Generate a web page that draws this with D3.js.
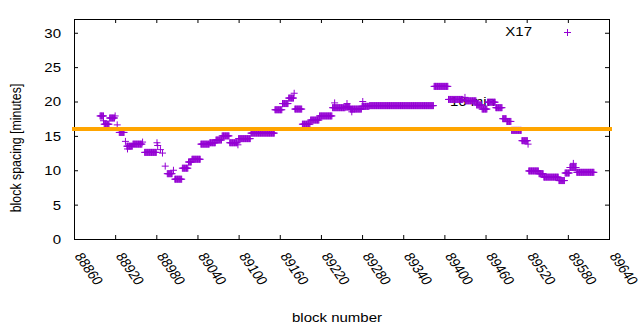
<!DOCTYPE html>
<html>
<head>
<meta charset="utf-8">
<script src="https://cdn.jsdelivr.net/npm/d3@7"></script>
<style>
  body { margin: 0; background: white; }
  text { font-family: "Liberation Sans", Arial, sans-serif; font-size: 15px; fill: black; }
</style>
</head>
<body>
<div id="chart"></div>
<script>
// block ranges with equal spacing (one "+" per block)
const runFrom  = [88898, 88903, 88904, 88912, 88920, 88923, 88926, 88935, 88937, 88938,
                  88946, 88960, 88963, 88981, 88982, 88986, 88989, 88993, 88996, 89005,
                  89007, 89018, 89027, 89032, 89045, 89058, 89067, 89076, 89087, 89099,
                  89100, 89118, 89153, 89164, 89173, 89181, 89182, 89193, 89205, 89218,
                  89237, 89240, 89256, 89258, 89263, 89265, 89280, 89281, 89291, 89385,
                  89406, 89430, 89431, 89447, 89455, 89463, 89475, 89485, 89491, 89498,
                  89513, 89522, 89523, 89538, 89545, 89567, 89576, 89583, 89588, 89593];
const runTo    = [88903, 88903, 88911, 88919, 88920, 88923, 88933, 88935, 88945, 88938,
                  88959, 88960, 88980, 88981, 88982, 88986, 88989, 88993, 89003, 89005,
                  89017, 89026, 89031, 89044, 89057, 89066, 89075, 89086, 89098, 89099,
                  89117, 89152, 89163, 89172, 89180, 89181, 89192, 89204, 89217, 89236,
                  89255, 89240, 89262, 89258, 89279, 89265, 89290, 89281, 89384, 89405,
                  89427, 89430, 89446, 89454, 89462, 89474, 89484, 89490, 89497, 89512,
                  89521, 89522, 89537, 89544, 89566, 89575, 89582, 89592, 89588, 89618];
const runValue = [17.9, 17.2, 16.7, 17.6, 17.9, 16.6, 15.5, 14.2, 13.5, 13.1,
                  13.8, 14.1, 12.6, 14.0, 13.6, 13.0, 12.5, 10.6, 9.5, 10.0,
                  8.7, 10.3, 11.2, 11.6, 13.8, 14.0, 14.4, 15.0, 14.0, 13.7,
                  14.6, 15.4, 18.8, 19.7, 20.5, 21.2, 18.9, 16.7, 17.3, 17.9,
                  19.1, 19.8, 19.2, 19.7, 18.9, 18.5, 19.3, 20.0, 19.4, 22.2,
                  20.3, 20.6, 20.1, 19.5, 18.9, 19.9, 19.1, 17.5, 17.1, 15.8,
                  14.3, 13.8, 9.9, 9.5, 9.0, 8.5, 9.6, 10.4, 11.0, 9.7];

const xTickValues = [88860, 88920, 88980, 89040, 89100, 89160, 89220, 89280,
                     89340, 89400, 89460, 89520, 89580, 89640];
const yTickValues = [0, 5, 10, 15, 20, 25, 30];
const targetMinutes = 16;
const seriesName = "X17";

// text in the picture is slightly squashed vertically
const squash = 0.825;

let svg = d3.select("#chart").append("svg")
  .attr("width", 640)
  .attr("height", 330);

svg.append("rect")
  .attr("width", "100%")
  .attr("height", "100%")
  .attr("fill", "white");

let plot = { left: 74, right: 609, top: 19, bottom: 239 };

let x = d3.scaleLinear().domain([88860, 89640]).range([plot.left, plot.right]);
let y = d3.scaleLinear().domain([0, 32]).range([plot.bottom, plot.top]);

// axes (ticks point inward, mirrored on top and right)
let xAxis = svg.append("g")
  .attr("transform", "translate(0," + plot.bottom + ")")
  .call(d3.axisBottom(x).tickValues(xTickValues).tickSizeInner(-4).tickSizeOuter(0).tickFormat(d3.format("d")));
xAxis.selectAll(".tick text")
  .attr("x", 0).attr("y", 0).attr("dy", null)
  .attr("text-anchor", "start")
  .attr("transform", "translate(-0.5,17) scale(1," + squash + ") rotate(60)");

let yAxis = svg.append("g")
  .attr("transform", "translate(" + plot.left + ",0)")
  .call(d3.axisLeft(y).tickValues(yTickValues).tickSizeInner(-4).tickSizeOuter(0));
yAxis.selectAll(".tick text")
  .attr("x", 0).attr("y", 0).attr("dy", null)
  .attr("text-anchor", "end")
  .attr("transform", "translate(-13,4.4) scale(1," + squash + ")");

svg.append("g")
  .attr("transform", "translate(0," + plot.top + ")")
  .call(d3.axisTop(x).tickValues(xTickValues).tickSizeInner(-4).tickSizeOuter(0).tickFormat(""));
svg.append("g")
  .attr("transform", "translate(" + plot.right + ",0)")
  .call(d3.axisRight(y).tickValues(yTickValues).tickSizeInner(-4).tickSizeOuter(0).tickFormat(""));

svg.selectAll(".domain").remove();
svg.selectAll(".tick line").attr("stroke", "black");
svg.selectAll(".tick text").style("font-size", null).attr("font-family", null).attr("font-size", null);

svg.append("rect")
  .attr("x", plot.left + 0.5)
  .attr("y", plot.top + 0.5)
  .attr("width", plot.right - plot.left)
  .attr("height", plot.bottom - plot.top)
  .attr("fill", "none")
  .attr("stroke", "black");

// axis titles
svg.append("text")
  .attr("text-anchor", "middle")
  .attr("transform", "translate(337,321.5) scale(1," + squash + ")")
  .text("block number");

svg.append("text")
  .attr("text-anchor", "middle")
  .attr("transform", "translate(21,148) scale(1," + squash + ") rotate(-90)")
  .text("block spacing [minutes]");

// label sits behind the points
svg.append("text")
  .attr("transform", "translate(450,106) scale(1," + squash + ")")
  .text(targetMinutes + " min");

// expand each run to one point per block
let points = [];
runFrom.forEach(function(from, i){
  for (let b = from; b <= runTo[i]; b++) {
    points.push({ block: b, spacing: runValue[i] });
  }
});

let cross = "M-3.5,0H3.5M0,-3.5V3.5";

svg.append("g").selectAll("path")
  .data(points)
  .enter().append("path")
    .attr("d", cross)
    .attr("transform", function(d) { return "translate(" + x(d.block) + "," + y(d.spacing) + ")"; })
    .attr("fill", "none")
    .attr("stroke", "#9400d3")
    .attr("stroke-width", 1);

// 16 minute target line
svg.append("line")
  .attr("x1", x.range()[0])
  .attr("x2", x.range()[1] + 1)
  .attr("y1", y(targetMinutes))
  .attr("y2", y(targetMinutes))
  .attr("stroke", "#ffa500")
  .attr("stroke-width", 4)
  .attr("stroke-linecap", "square");

// key
svg.append("text")
  .attr("text-anchor", "end")
  .attr("transform", "translate(532,36) scale(1," + squash + ")")
  .text(seriesName);

svg.append("path")
  .attr("d", cross)
  .attr("transform", "translate(567.5,32.5)")
  .attr("fill", "none")
  .attr("stroke", "#9400d3")
  .attr("stroke-width", 1);
</script>
</body>
</html>
